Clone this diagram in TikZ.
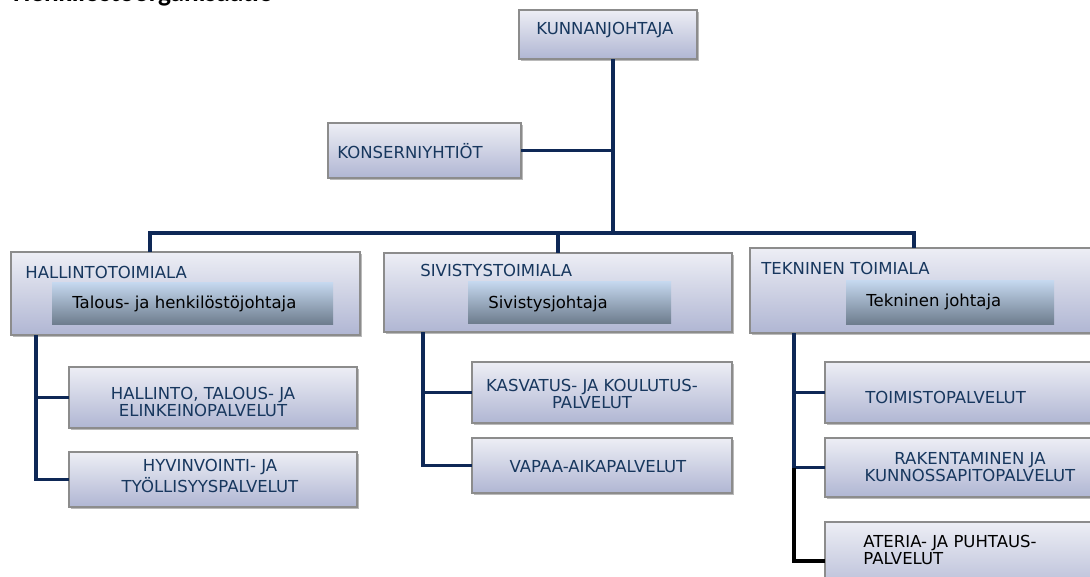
\documentclass[tikz,border=0pt]{standalone}
\usepackage{fontspec}
\setmainfont{DejaVu Sans}
\newfontfamily\titlefont{Carlito}
\usetikzlibrary{shadows}

\definecolor{navy}{RGB}{14,40,86}
\definecolor{labelblue}{RGB}{23,55,94}
\definecolor{boxtop}{RGB}{237,238,245}
\definecolor{boxbot}{RGB}{176,182,211}
\definecolor{headtop}{RGB}{198,217,240}
\definecolor{headbot}{RGB}{110,125,142}
\definecolor{boxrim}{RGB}{140,140,140}

\newcommand{\px}{0.02cm}

\begin{document}
\begin{tikzpicture}[x=\px, y=-\px,
conn/.style={draw=navy, line width=2.2pt},
unit/.style={draw=boxrim, line width=0.6pt, top color=boxtop, bottom color=boxbot,
  anchor=north west, inner sep=0pt, outer sep=0pt,
  drop shadow={shadow xshift=1.2pt, shadow yshift=-1.2pt, opacity=.45, fill=black!60}},
head/.style={top color=headtop, bottom color=headbot, anchor=north west, inner sep=0pt, outer sep=0pt},
boxsize/.style 2 args={minimum width=#1*\px, minimum height=#2*\px},
lbl/.style={text=labelblue, font=\fontsize{9.4}{9.8}\selectfont, inner sep=0pt, anchor=west},
chief/.style={text=black, font=\fontsize{9.4}{9.8}\selectfont, inner sep=0pt, anchor=base west}]
\useasboundingbox (0,0) rectangle (1090,576);

%title, cut by the page edge
\node[anchor=base west, font=\titlefont\bfseries\fontsize{15.5}{16}\selectfont] (title) at (7,1) {Henkilöstöorganisaatio};

%top
\node[unit, boxsize={178}{49}] (kunta) at (519,10) {};
\node[lbl] (kunta-t) at (536,30) {KUNNANJOHTAJA};
\node[unit, boxsize={193}{55}] (konserni) at (328,123) {};
\node[lbl] (konserni-t) at (337,151) {KONSERNIYHTIÖT};

%toimialat
\node[unit, boxsize={349}{83}] (hall) at (11,252) {};
\node[lbl] (hall-t) at (25,272) {HALLINTOTOIMIALA};
\node[head, boxsize={281}{42}] (hallj) at (52,282) {};
\node[chief] (hallj-t) at (72,308) {Talous- ja henkilöstöjohtaja};

\node[unit, boxsize={348}{79}] (sivi) at (384,253) {};
\node[lbl] (sivi-t) at (420,270) {SIVISTYSTOIMIALA};
\node[head, boxsize={203}{42}] (sivij) at (468,281) {};
\node[chief] (sivij-t) at (488,308) {Sivistysjohtaja};

\node[unit, boxsize={350}{85}] (tekn) at (750,248) {};
\node[lbl] (tekn-t) at (761,268) {TEKNINEN TOIMIALA};
\node[head, boxsize={208}{44}] (teknj) at (846,280) {};
\node[chief] (teknj-t) at (866,306) {Tekninen johtaja};

%palvelut
\node[unit, boxsize={288}{61}] (hto) at (69,367) {};
\node[lbl, anchor=center, align=center] (hto-t) at (203,402) {HALLINTO, TALOUS- JA\\ELINKEINOPALVELUT};
\node[unit, boxsize={288}{55}] (hyv) at (69,452) {};
\node[lbl, anchor=center, align=center] (hyv-t) at (210,476) {HYVINVOINTI- JA\\TYÖLLISYYSPALVELUT};

\node[unit, boxsize={260}{61}] (kas) at (472,362) {};
\node[lbl, anchor=center, align=center] (kas-t) at (592,394) {KASVATUS- JA KOULUTUS-\\PALVELUT};
\node[unit, boxsize={260}{55}] (vap) at (472,438) {};
\node[lbl, anchor=center] (vap-t) at (598,467) {VAPAA-AIKAPALVELUT};

\node[unit, boxsize={275}{61}] (toim) at (825,362) {};
\node[lbl] (toim-t) at (865,397) {TOIMISTOPALVELUT};
\node[unit, boxsize={275}{59}] (rak) at (825,438) {};
\node[lbl, anchor=center, align=center] (rak-t) at (970,467) {RAKENTAMINEN JA\\KUNNOSSAPITOPALVELUT};
\node[unit, boxsize={275}{78}] (ate) at (825,522) {};
\node[lbl, text=black, align=left] (ate-t) at (863,550) {ATERIA- JA PUHTAUS-\\PALVELUT};

%lines
\coordinate (hub) at (613,233);
\coordinate (d1) at (150,233);
\coordinate (d2) at (558,233);
\coordinate (d3) at (914,233);
\draw[conn] (kunta.south -| hub) -- (hub);
\draw[conn] (konserni.east) -- (konserni.east -| hub);
\draw[conn] (hall.north -| d1) -- (d1) -- (d3) -- (tekn.north -| d3);
\draw[conn] (d2) -- (sivi.north -| d2);

\coordinate (s1) at (36,0);
\coordinate (s2) at (423,0);
\coordinate (s3) at (794,0);
\draw[conn] (hall.south -| s1) -- (s1 |- hyv.west) -- (hyv.west);
\draw[conn] (s1 |- hto.west) -- (hto.west);
\draw[conn] (sivi.south -| s2) -- (s2 |- vap.west) -- (vap.west);
\draw[conn] (s2 |- kas.west) -- (kas.west);
\draw[conn] (tekn.south -| s3) -- (s3 |- rak.west) -- (rak.west);
\draw[conn] (s3 |- toim.west) -- (toim.west);
\draw[conn, draw=black] (s3 |- rak.west) -- (s3 |- ate.west) -- (ate.west);
\end{tikzpicture}
\end{document}
